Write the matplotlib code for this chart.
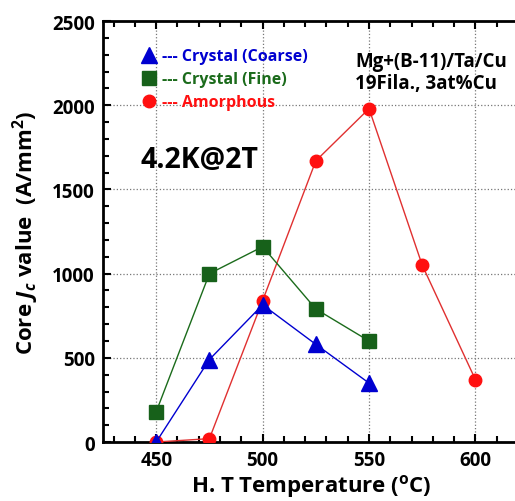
import matplotlib.pyplot as plt
from matplotlib.ticker import MultipleLocator

plt.rcParams['font.family'] = ['Open Sans', 'DejaVu Sans']
plt.rcParams['font.weight'] = 'bold'
plt.rcParams['axes.labelweight'] = 'bold'
plt.rcParams['mathtext.fontset'] = 'custom'
plt.rcParams['mathtext.rm'] = 'Open Sans:bold'
plt.rcParams['mathtext.it'] = 'Open Sans:bold:italic'
plt.rcParams['mathtext.bf'] = 'Open Sans:bold'

# Data
temp_coarse = [450, 475, 500, 525, 550]
jc_coarse = [0, 490, 815, 580, 350]
temp_fine = [450, 475, 500, 525, 550]
jc_fine = [180, 1000, 1160, 790, 600]
temp_amor = [450, 475, 500, 525, 550, 575, 600]
jc_amor = [0, 20, 840, 1670, 1980, 1050, 370]

BLUE = '#0000d0'
GREEN = '#1b6b1b'
RED = '#ff1010'

fig = plt.figure(figsize=(5.15, 5.02), dpi=100)
ax = fig.add_axes([0.2, 0.1175, 0.81, 0.8385])

ax.plot(temp_amor, jc_amor, '-o', color='#e03030', mfc=RED, mec=RED,
        ms=9, lw=1, label='--- Amorphous', zorder=3)
ax.plot(temp_fine, jc_fine, '-s', color=GREEN, mfc='#17611a', mec='#17611a',
        ms=10, lw=1, label='--- Crystal (Fine)', zorder=4)
ax.plot(temp_coarse, jc_coarse, '-^', color=BLUE, mfc=BLUE, mec=BLUE,
        ms=11, lw=1, label='--- Crystal (Coarse)', zorder=5)

ax.set_xlim(425, 621)
ax.set_ylim(0, 2500)
ax.set_xticks([450, 500, 550, 600])
ax.xaxis.set_minor_locator(MultipleLocator(10))
ax.yaxis.set_major_locator(MultipleLocator(500))
ax.yaxis.set_minor_locator(MultipleLocator(100))

ax.grid(True, which='major', linestyle=':', color='#777777', lw=0.9)
ax.spines['right'].set_visible(False)
for s in ['left', 'bottom', 'top']:
    ax.spines[s].set_linewidth(2)
ax.tick_params(which='both', direction='in', top=True, right=False,
               labeltop=False, labelsize=13.5, width=1.5)
ax.tick_params(which='major', length=6, pad=6)
ax.tick_params(which='minor', length=4)

ax.set_xlabel('H. T Temperature ($^{\\mathrm{o}}$C)', fontsize=16, labelpad=1)
ax.set_ylabel('Core $J_c$ value  (A/mm$^2$)', fontsize=16, labelpad=8)

handles, labels = ax.get_legend_handles_labels()
leg = ax.legend(handles[::-1], labels[::-1], loc='upper left',
                bbox_to_anchor=(0.065, 0.97), frameon=False, fontsize=11.5,
                handlelength=0.6, handletextpad=0.5, labelspacing=0.45,
                labelcolor=[BLUE, GREEN, RED])
for h in leg.legend_handles:
    h.set_linestyle('None')

ax.text(0.09, 0.67, '4.2K@2T', transform=ax.transAxes, fontsize=20.5,
        fontweight='bold', va='center')
ax.text(0.605, 0.93, 'Mg+(B-11)/Ta/Cu\n19Fila., 3at%Cu', transform=ax.transAxes,
        fontsize=13.5, fontweight='bold', va='top', linespacing=1.15)

fig.savefig('out.png', dpi=100)
